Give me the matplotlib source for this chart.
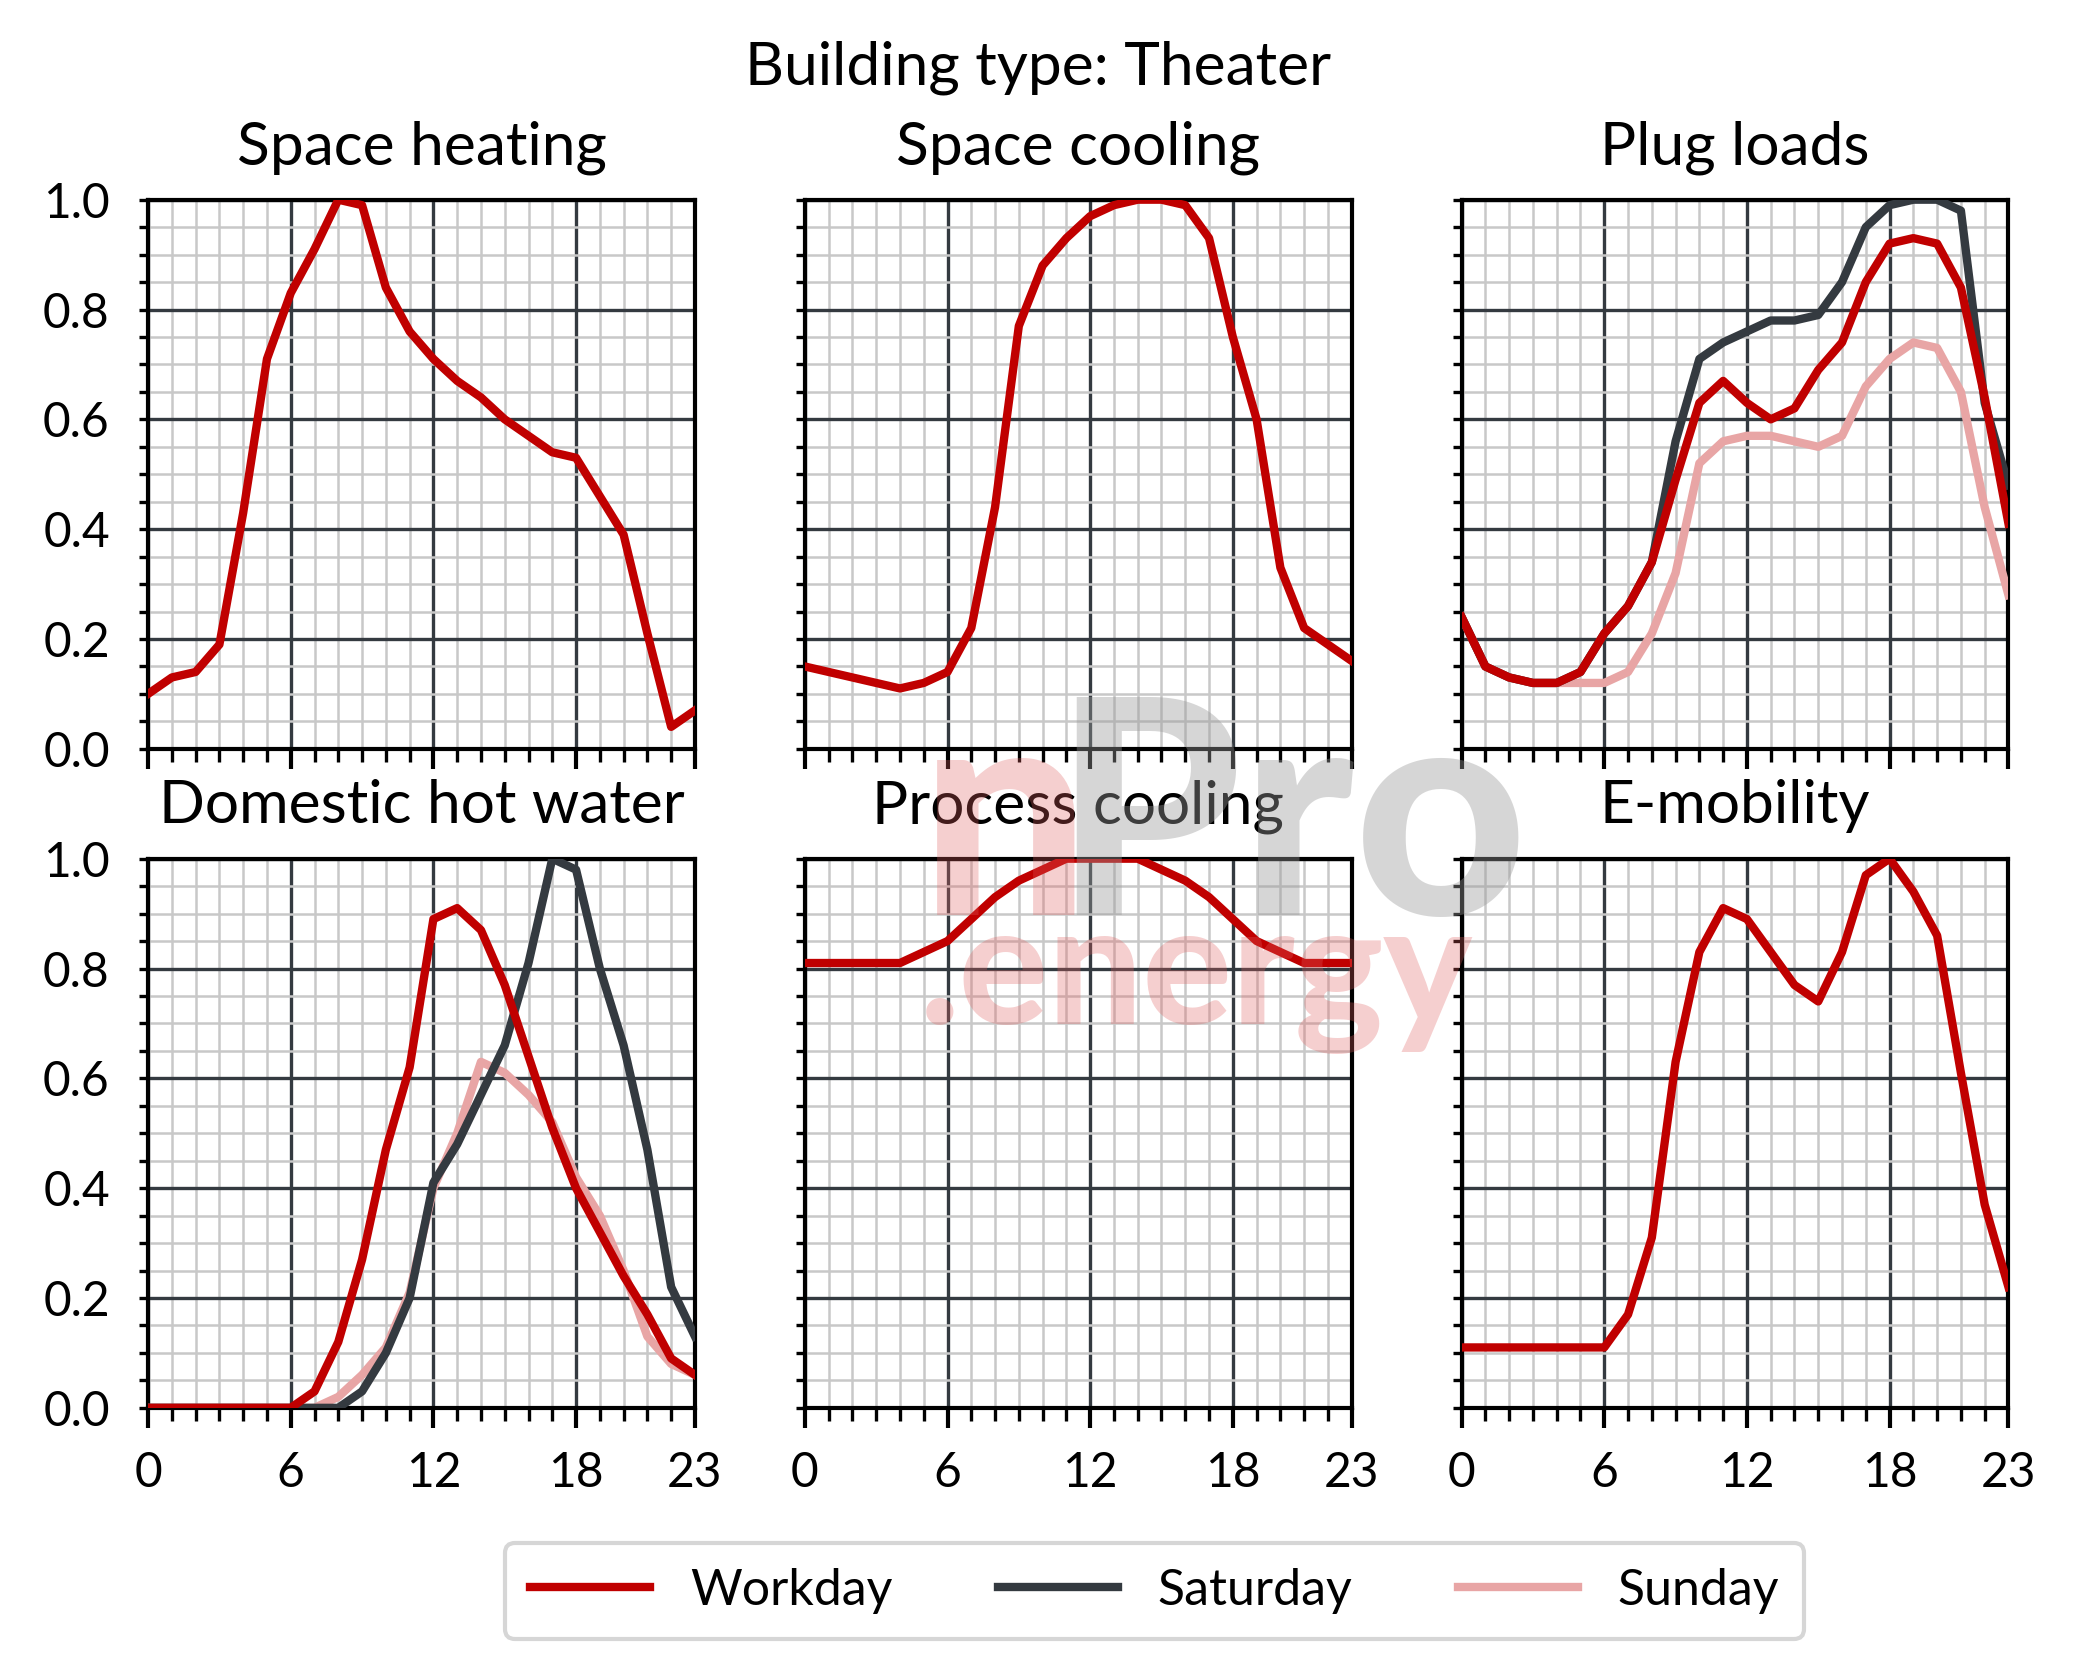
import numpy as np
import matplotlib
matplotlib.use("Agg")
import matplotlib.pyplot as plt
from matplotlib.ticker import MultipleLocator, FixedLocator

plt.rcParams['font.family'] = ['Lato', 'DejaVu Sans']

hours = list(range(24))

# values (normalised load profiles)
heat_work = [0.10, 0.13, 0.14, 0.19, 0.43, 0.71, 0.83, 0.91, 1.00, 0.99, 0.84, 0.76,
             0.71, 0.67, 0.64, 0.60, 0.57, 0.54, 0.53, 0.46, 0.39, 0.21, 0.04, 0.07]
cool_work = [0.15, 0.14, 0.13, 0.12, 0.11, 0.12, 0.14, 0.22, 0.44, 0.77, 0.88, 0.93,
             0.97, 0.99, 1.00, 1.00, 0.99, 0.93, 0.75, 0.60, 0.33, 0.22, 0.19, 0.16]
plug_work = [0.24, 0.15, 0.13, 0.12, 0.12, 0.14, 0.21, 0.26, 0.34, 0.49, 0.63, 0.67,
             0.63, 0.60, 0.62, 0.69, 0.74, 0.85, 0.92, 0.93, 0.92, 0.84, 0.64, 0.41]
plug_sat = [0.24, 0.15, 0.13, 0.12, 0.12, 0.14, 0.21, 0.26, 0.34, 0.56, 0.71, 0.74,
            0.76, 0.78, 0.78, 0.79, 0.85, 0.95, 0.99, 1.00, 1.00, 0.98, 0.63, 0.48]
plug_sun = [0.24, 0.15, 0.13, 0.12, 0.12, 0.12, 0.12, 0.14, 0.21, 0.32, 0.52, 0.56,
            0.57, 0.57, 0.56, 0.55, 0.57, 0.66, 0.71, 0.74, 0.73, 0.65, 0.44, 0.28]
dhw_work = [0, 0, 0, 0, 0, 0, 0, 0.03, 0.12, 0.27, 0.47, 0.62,
            0.89, 0.91, 0.87, 0.77, 0.64, 0.51, 0.40, 0.32, 0.24, 0.17, 0.09, 0.06]
dhw_sat = [0, 0, 0, 0, 0, 0, 0, 0, 0, 0.03, 0.10, 0.20,
           0.41, 0.48, 0.57, 0.66, 0.81, 1.00, 0.98, 0.80, 0.66, 0.47, 0.22, 0.13]
dhw_sun = [0, 0, 0, 0, 0, 0, 0, 0, 0.02, 0.06, 0.11, 0.21,
           0.40, 0.50, 0.63, 0.61, 0.57, 0.52, 0.42, 0.35, 0.25, 0.13, 0.08, 0.06]
proc_work = [0.81, 0.81, 0.81, 0.81, 0.81, 0.83, 0.85, 0.89, 0.93, 0.96, 0.98, 1.00,
             1.00, 1.00, 1.00, 0.98, 0.96, 0.93, 0.89, 0.85, 0.83, 0.81, 0.81, 0.81]
emob_work = [0.11, 0.11, 0.11, 0.11, 0.11, 0.11, 0.11, 0.17, 0.31, 0.63, 0.83, 0.91,
             0.89, 0.83, 0.77, 0.74, 0.83, 0.97, 1.00, 0.94, 0.86, 0.61, 0.37, 0.22]

titles = ['Space heating', 'Space cooling', 'Plug loads',
          'Domestic hot water', 'Process cooling', 'E-mobility']
workday = [heat_work, cool_work, plug_work, dhw_work, proc_work, emob_work]
saturday = [None, None, plug_sat, dhw_sat, None, None]
sunday = [None, None, plug_sun, dhw_sun, None, None]

RED = '#C00000'
DARK = '#343A40'
PINK = '#E8A5A5'

fig, axes = plt.subplots(2, 3, figsize=(2077 / 300, 1678 / 300), dpi=300)
fig.subplots_adjust(left=0.0713, right=0.967, top=0.881, bottom=0.161,
                    wspace=0.201, hspace=0.2)

for i, ax in enumerate(axes.flat):
    if sunday[i] is not None:
        ax.plot(hours, sunday[i], color=PINK, lw=2, label='Sunday', zorder=3)
    if saturday[i] is not None:
        ax.plot(hours, saturday[i], color=DARK, lw=2, label='Saturday', zorder=4)
    ax.plot(hours, workday[i], color=RED, lw=2, label='Workday', zorder=5)

    ax.set_xlim(0, 23)
    ax.set_ylim(0, 1)
    ax.xaxis.set_major_locator(FixedLocator([0, 6, 12, 18, 23]))
    ax.xaxis.set_minor_locator(MultipleLocator(1))
    ax.yaxis.set_major_locator(MultipleLocator(0.2))
    ax.yaxis.set_minor_locator(MultipleLocator(0.05))
    ax.grid(which='major', color=DARK, lw=0.8, zorder=1)
    ax.grid(which='minor', color='#C8C8C8', lw=0.6, zorder=0)
    ax.set_axisbelow(True)
    for s in ax.spines.values():
        s.set_linewidth(1.0)
        s.set_color('black')
    ax.tick_params(axis='x', which='major', length=4.8, width=1, labelsize=11.5, pad=5.5)
    ax.tick_params(axis='x', which='minor', length=3, width=0.8)
    ax.tick_params(axis='y', which='both', length=2.2, width=0.8, labelsize=11.5, pad=7)
    ax.set_title(titles[i], fontsize=14.5, pad=8.5)
    if i % 3 != 0:
        ax.set_yticklabels([])
    if i < 3:
        ax.set_xticklabels([])
    else:
        ax.set_xticklabels(['0', '6', '12', '18', '23'])

fig.suptitle('Building type: Theater', fontsize=14.5, y=0.976)

h, l = axes.flat[2].get_legend_handles_labels()
order = [l.index('Workday'), l.index('Saturday'), l.index('Sunday')]
fig.legend([h[k] for k in order], [l[k] for k in order], loc='center',
           bbox_to_anchor=(0.556, 0.052), ncol=3, fontsize=12,
           handlelength=2.4, handletextpad=0.8, columnspacing=2.1,
           frameon=True, fancybox=True, edgecolor='#CCCCCC', borderpad=0.5)

# watermark
fig.text(0.443, 0.455, 'n', fontsize=72, fontweight='black', color='#E06060',
         alpha=0.3, zorder=10)
fig.text(0.507, 0.455, 'Pro', fontsize=72, fontweight='black', color='#9A9A9A',
         alpha=0.4, zorder=10)
fig.text(0.443, 0.39, '.energy', fontsize=40, fontweight='black', color='#E06060',
         alpha=0.3, zorder=10)

fig.savefig('out.png', dpi=300)
